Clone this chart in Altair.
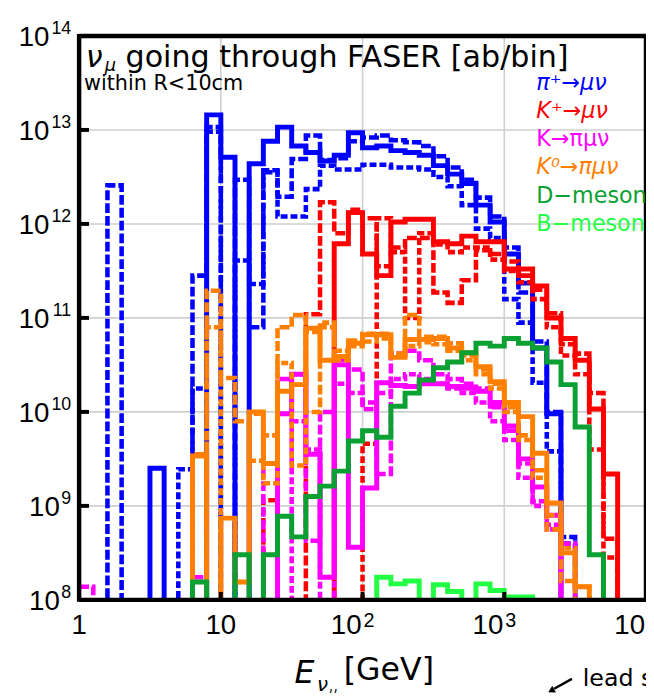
import altair as alt
import pandas as pd

# ---------------- data (log10 of events per bin; 0 = empty bin) ----------------
# 40 logarithmic bins, 10 per decade, from 1 GeV to 10^4 GeV
N_BINS = 40
BINS_PER_DECADE = 10

PI_SOLID = [0, 0, 0, 0, 0, 9.40, 0, 0, 0, 13.16,
            12.71, 0, 12.64, 12.88, 13.03, 12.83, 12.76, 12.67, 12.73, 12.97,
            12.81, 12.83, 12.78, 12.76, 12.73, 12.62, 12.53, 12.43, 12.20, 12.02,
            11.68, 11.37, 10.68, 9.98, 0, 0, 0, 0, 0, 0]
PI_DASH1 = [0, 0, 12.41, 0, 0, 0, 0, 0, 11.45, 13.03,
            0, 12.47, 10.90, 12.57, 12.29, 12.69, 12.94, 12.68, 12.70, 12.88,
            12.92, 12.94, 12.89, 12.87, 12.83, 12.72, 12.60, 12.47, 12.28, 12.08,
            11.75, 11.27, 10.75, 10.00, 8.67, 0, 0, 0, 0, 0]
PI_DASH2 = [0, 0, 0, 0, 0, 0, 0, 9.39, 10.25, 12.98,
            0, 11.61, 11.36, 12.55, 12.08, 12.08, 12.37, 12.62, 12.58, 12.58,
            12.63, 12.63, 12.60, 12.60, 12.58, 12.50, 12.40, 12.20, 11.95, 11.85,
            11.20, 10.95, 10.31, 9.58, 8.60, 0, 0, 0, 0, 0]

KP_SOLID = [0, 0, 0, 0, 0, 0, 0, 0, 0, 0,
            0, 0, 0, 0, 0, 0, 0, 0, 11.79, 12.12,
            11.68, 11.45, 12.02, 12.05, 12.05, 11.81, 11.79, 11.87, 11.81, 11.81,
            11.52, 11.52, 11.34, 11.00, 10.78, 10.55, 10.03, 9.34, 0, 0]
KP_DASH1 = [0, 0, 0, 0, 0, 0, 0, 0, 0, 0,
            0, 0, 0, 0, 0, 0, 11.04, 12.23, 11.90, 12.15,
            12.06, 11.55, 11.75, 11.85, 11.85, 11.27, 11.16, 11.40, 11.72, 11.68,
            11.60, 11.45, 11.30, 11.05, 10.72, 10.62, 10.20, 8.65, 0, 0]
KP_DASH2 = [0, 0, 0, 0, 0, 0, 0, 0, 0, 0,
            0, 0, 0, 9.06, 0, 0, 0, 0, 0, 0,
            9.66, 12.06, 11.70, 11.00, 11.90, 11.78, 11.70, 11.75, 11.75, 11.62,
            11.50, 11.38, 11.20, 10.90, 10.60, 10.40, 9.60, 8.45, 0, 0]

K3_SOLID = [0, 0, 0, 0, 0, 0, 0, 0, 0, 0,
            0, 0, 0, 0, 9.98, 10.40, 9.55, 8.24, 10.50, 8.56,
            9.19, 10.31, 10.28, 10.27, 10.30, 10.30, 10.27, 10.25, 10.22, 10.10,
            9.85, 9.50, 9.20, 8.90, 0, 0, 0, 0, 0, 0]
K3_DASH1 = [8.14, 0, 0, 0, 0, 0, 0, 0, 8.24, 0,
            0, 0, 0, 9.45, 10.35, 9.90, 8.63, 10.00, 10.55, 10.45,
            10.03, 9.34, 10.62, 10.65, 10.55, 10.40, 10.35, 10.30, 10.25, 10.05,
            9.80, 9.45, 9.05, 8.80, 8.60, 0, 0, 0, 0, 0]
K3_DASH2 = [0, 0, 0, 0, 0, 0, 0, 0, 0, 0,
            0, 0, 0, 0, 0, 10.40, 9.60, 0, 10.30, 10.20,
            10.10, 10.20, 10.35, 10.40, 10.35, 10.30, 10.25, 10.20, 10.10, 9.90,
            9.70, 9.30, 9.00, 8.75, 0, 0, 0, 0, 0, 0]

K0_SOLID = [0, 0, 0, 0, 0, 0, 0, 0, 9.53, 0,
            8.87, 8.19, 10.00, 9.45, 10.22, 10.29, 10.89, 10.55, 10.59, 10.73,
            10.82, 10.82, 10.58, 10.77, 10.77, 10.78, 10.68, 10.63, 10.48, 10.32,
            10.10, 9.95, 9.56, 9.03, 8.50, 8.14, 0, 0, 0, 0]
K0_DASH1 = [0, 0, 0, 0, 0, 0, 0, 0, 9.55, 11.29,
            10.36, 9.90, 9.48, 9.75, 10.90, 11.03, 10.00, 10.90, 10.65, 10.76,
            10.83, 10.83, 10.60, 11.03, 10.80, 10.80, 10.73, 10.60, 10.45, 10.30,
            10.05, 9.75, 9.38, 8.75, 8.20, 8.14, 0, 0, 0, 0]
K0_DASH2 = [0, 0, 0, 0, 0, 0, 0, 0, 0, 10.90,
            0, 8.19, 9.98, 9.24, 10.52, 9.43, 10.85, 10.95, 10.55, 10.70,
            10.75, 10.78, 10.62, 10.70, 10.74, 10.72, 10.65, 10.55, 10.40, 10.25,
            10.00, 9.70, 9.30, 8.90, 8.55, 0, 0, 0, 0, 0]

D_MESON = [0, 0, 0, 0, 0, 0, 0, 0, 8.19, 0,
           0, 8.48, 0, 8.48, 8.89, 8.67, 9.10, 9.21, 9.37, 9.69,
           9.80, 9.73, 10.06, 10.20, 10.34, 10.47, 10.53, 10.63, 10.73, 10.70,
           10.78, 10.73, 10.68, 10.53, 10.29, 9.84, 8.48, 0, 0, 0]
B_MESON = [0, 0, 0, 0, 0, 0, 0, 0, 0, 0,
           0, 0, 0, 0, 0, 0, 0, 0, 0, 0,
           0, 8.24, 8.17, 8.20, 0, 8.16, 8.09, 0, 8.17, 8.10,
           8.03, 8.03, 0, 0, 0, 0, 0, 0, 0, 0]

# tick / label values
X_GRID = [10, 100, 1000]
Y_GRID = [1e9, 1e10, 1e11, 1e12, 1e13]
Y_LABEL_EXP = [8, 9, 10, 11, 12, 13, 14]
X_LABEL_VALUES = [1, 10, 100, 1000, 10000]
X_LABEL_BASE = ["1", "10", "10", "10", "10"]
X_LABEL_SUP = ["", "", "2", "3", "4"]

LEGEND_TEXT = ["\u03c0\u207a\u2192\u03bc\u03bd", "K\u207a\u2192\u03bc\u03bd", "K\u2192\u03c0\u03bc\u03bd",
               "K\u2070\u2192\u03c0\u03bc\u03bd", "D\u2212meson", "B\u2212meson"]
LEGEND_ITALIC = [True, True, False, True, False, False]

BLUE, RED, MAGENTA, ORANGE, GREEN, LGREEN = "#0000ff", "#ff0000", "#ff00ff", "#ff8000", "#0aa032", "#22ff44"
LEGEND_COLORS = [BLUE, RED, MAGENTA, ORANGE, GREEN, LGREEN]

SERIES = [
    ("pi_s", PI_SOLID, BLUE, "solid"), ("pi_d1", PI_DASH1, BLUE, "d1"), ("pi_d2", PI_DASH2, BLUE, "d2"),
    ("kp_s", KP_SOLID, RED, "solid"), ("kp_d1", KP_DASH1, RED, "d1"), ("kp_d2", KP_DASH2, RED, "d2"),
    ("k3_s", K3_SOLID, MAGENTA, "solid"), ("k3_d1", K3_DASH1, MAGENTA, "d1"), ("k3_d2", K3_DASH2, MAGENTA, "d2"),
    ("k0_s", K0_SOLID, ORANGE, "solid"), ("k0_d1", K0_DASH1, ORANGE, "d1"), ("k0_d2", K0_DASH2, ORANGE, "d2"),
    ("d", D_MESON, GREEN, "solid"), ("b", B_MESON, LGREEN, "solid"),
]

# ---------------- layout ----------------
W, H = 574, 571
FLOOR = 10 ** 7.5
xscale = alt.Scale(type="log", domain=[1, 10000], nice=False)
yscale = alt.Scale(type="log", domain=[1e8, 1e14], nice=False)
LABEL_FONT = "Liberation Sans"
TEXT_FONT = "DejaVu Sans"

layers = []

# grid
layers.append(
    alt.Chart(pd.DataFrame({"v": X_GRID})).mark_rule(color="#cfcfcf", strokeWidth=1.6).encode(
        x=alt.X("v:Q", scale=xscale, axis=None), y=alt.value(0), y2=alt.value(H))
)
layers.append(
    alt.Chart(pd.DataFrame({"v": Y_GRID})).mark_rule(color="#cfcfcf", strokeWidth=1.6).encode(
        y=alt.Y("v:Q", scale=yscale, axis=None), x=alt.value(0), x2=alt.value(W))
)

# histograms
for name, vals, color, style in SERIES:
    rows = []
    for i, v in enumerate(vals):
        rows.append({"E": 10 ** (i / BINS_PER_DECADE), "n": 10 ** v if v > 0 else FLOOR})
    rows.append({"E": 10 ** (len(vals) / BINS_PER_DECADE), "n": rows[-1]["n"]})
    kw = dict(interpolate="step-after", color=color, clip=True, strokeJoin="miter", strokeCap="butt")
    if style == "solid":
        kw["strokeWidth"] = 5
    elif style == "d1":
        kw["strokeWidth"] = 4.6
        kw["strokeDash"] = [10, 3]
    else:
        kw["strokeWidth"] = 4.6
        kw["strokeDash"] = [7, 3]
    layers.append(
        alt.Chart(pd.DataFrame(rows)).mark_line(**kw).encode(
            x=alt.X("E:Q", scale=xscale, axis=None), y=alt.Y("n:Q", scale=yscale, axis=None))
    )

# frame
one = pd.DataFrame({"a": [0]})
for enc in [
    dict(x=alt.value(0), x2=alt.value(W), y=alt.value(H)),
    dict(x=alt.value(0), x2=alt.value(W), y=alt.value(0)),
    dict(x=alt.value(0), y=alt.value(-2), y2=alt.value(H + 2)),
    dict(x=alt.value(W), y=alt.value(-2), y2=alt.value(H + 2)),
]:
    layers.append(alt.Chart(one).mark_rule(color="black", strokeWidth=4.5).encode(**enc))

# ticks (inside)
layers.append(
    alt.Chart(pd.DataFrame({"v": Y_GRID})).mark_rule(color="black", strokeWidth=4).encode(
        y=alt.Y("v:Q", scale=yscale, axis=None), x=alt.value(0), x2=alt.value(10))
)
layers.append(
    alt.Chart(pd.DataFrame({"v": X_GRID})).mark_rule(color="black", strokeWidth=4).encode(
        x=alt.X("v:Q", scale=xscale, axis=None), y=alt.value(H), y2=alt.value(H - 8))
)

# y labels: "10" + superscript exponent, right aligned
ylab = pd.DataFrame({"e": Y_LABEL_EXP})
ybase = alt.Chart(ylab).transform_calculate(
    v="pow(10, datum.e)", sup="toString(datum.e)", xb="-9 - 10.5*length(toString(datum.e))"
)
layers.append(
    ybase.mark_text(font=LABEL_FONT, fontSize=28, align="right", baseline="middle", dy=2, color="black").encode(
        x=alt.X("xb:Q", scale=None), y=alt.Y("v:Q", scale=yscale, axis=None), text=alt.value("10"))
)
layers.append(
    ybase.mark_text(font=LABEL_FONT, fontSize=18, align="right", baseline="middle", dy=-7, color="black").encode(
        x=alt.value(-8), y=alt.Y("v:Q", scale=yscale, axis=None), text="sup:N")
)

# x labels
xlab = pd.DataFrame({"v": X_LABEL_VALUES, "base": X_LABEL_BASE, "sup": X_LABEL_SUP})
layers.append(
    alt.Chart(xlab).transform_filter("datum.sup == ''").mark_text(
        font=LABEL_FONT, fontSize=28, align="center", baseline="alphabetic", color="black").encode(
        x=alt.X("v:Q", scale=xscale, axis=None), y=alt.value(H + 35), text="base:N")
)
layers.append(
    alt.Chart(xlab).transform_filter("datum.sup != ''").mark_text(
        font=LABEL_FONT, fontSize=28, align="right", baseline="alphabetic", dx=-1, color="black").encode(
        x=alt.X("v:Q", scale=xscale, axis=None), y=alt.value(H + 35), text="base:N")
)
layers.append(
    alt.Chart(xlab).transform_filter("datum.sup != ''").mark_text(
        font=LABEL_FONT, fontSize=20, align="left", baseline="alphabetic", dx=1, color="black").encode(
        x=alt.X("v:Q", scale=xscale, axis=None), y=alt.value(H + 27), text="sup:N")
)


def label(text, x, y, size, color="black", italic=False, font=TEXT_FONT, align="left", baseline="alphabetic"):
    kw = dict(font=font, fontSize=size, align=align, baseline=baseline, color=color)
    if italic:
        kw["fontStyle"] = "italic"
    return alt.Chart(pd.DataFrame({"t": [text]})).mark_text(**kw).encode(
        x=alt.value(x), y=alt.value(y), text="t:N")


# in-plot title
layers.append(label("\u03bd", 7, 31, 30, italic=True))
layers.append(label("\u03bc", 26, 36, 18, italic=True))
layers.append(label("going through FASER [ab/bin]", 47, 31, 30.5))
layers.append(label("within R<10cm", 5, 55, 21))

# legend
LEGEND_Y = [48, 76, 104, 133, 162, 190]
for txt, col, it, yy in zip(LEGEND_TEXT, LEGEND_COLORS, LEGEND_ITALIC, LEGEND_Y):
    layers.append(label(txt, 463, yy, 22.5, color=col, italic=it, baseline="middle"))

# axis title
layers.append(label("E", 218, 655, 32, italic=True))
layers.append(label("\u03bd", 241, 663, 20, italic=True))
layers.append(label("\u03bc", 253, 668, 13, italic=True))
layers.append(label("[GeV]", 268, 652, 32))

# fragment of neighbouring annotation
layers.append(label("lead shielding", 510, 658, 24))
layers.append(
    alt.Chart(one).mark_rule(color="black", strokeWidth=2.5).encode(
        x=alt.value(499), x2=alt.value(481), y=alt.value(651), y2=alt.value(661))
)
layers.append(
    alt.Chart(one).mark_point(shape="triangle-up", filled=True, color="black", size=60, angle=241, opacity=1).encode(
        x=alt.value(478), y=alt.value(663))
)

chart = alt.layer(*layers).properties(
    width=W, height=H,
    padding={"left": 72, "top": 24, "right": 0, "bottom": 90},
    autosize=alt.AutoSizeParams(type="none"),
    background="white",
).configure_view(stroke=None)

chart.save("out.html", embed_options={"renderer": "svg", "actions": False})
